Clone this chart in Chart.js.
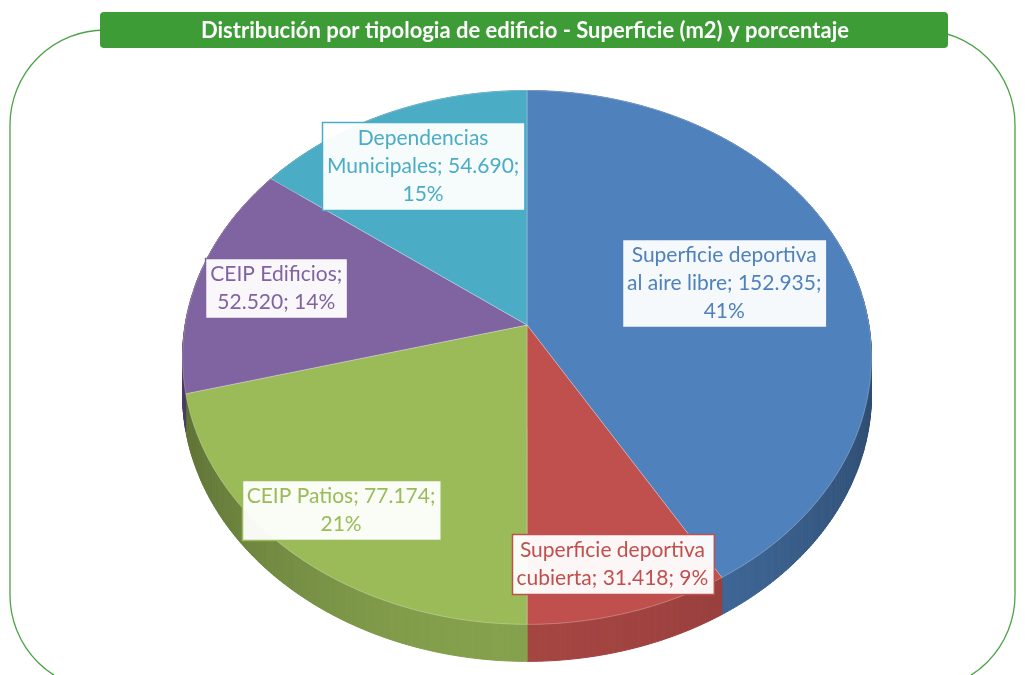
<!DOCTYPE html>
<html>
<head>
<meta charset="utf-8">
<script src="https://cdn.jsdelivr.net/npm/chart.js@4.4.0/dist/chart.umd.min.js"></script>
<style>
html, body { margin: 0; padding: 0; background: #fff; }
canvas { display: block; }
</style>
</head>
<body>
<canvas id="myChart" width="1025" height="675"></canvas>
<script>
const chartTitle = 'Distribución por tipologia de edificio - Superficie (m2) y porcentaje';
const categories = ['Superficie deportiva al aire libre', 'Superficie deportiva cubierta', 'CEIP Patios', 'CEIP Edificios', 'Dependencias Municipales'];
const surfaceValues = [152935, 31418, 77174, 52520, 54690];
const sliceColors = ['#4f81bd', '#c0504d', '#9bbb59', '#8064a2', '#4bacc6'];

// label placement: fraction of radius along the mid angle, and wrap width
const labelRadius = [0.61, 0.85, 0.82, 0.76, 0.73];
const labelWrap = [205, 210, 210, 140, 210];

const stretchX = 1.3;   // ellipse is wider than tall
const persp = 0.1215;   // near edge bigger than far edge
const depth = 37;

function fmt(n) {
    return String(n).replace(/\B(?=(\d{3})+(?!\d))/g, '.');
}

function shade(hex, f) {
    let r = parseInt(hex.slice(1, 3), 16), g = parseInt(hex.slice(3, 5), 16), b = parseInt(hex.slice(5, 7), 16);
    return 'rgb(' + Math.round(r * f) + ',' + Math.round(g * f) + ',' + Math.round(b * f) + ')';
}

function proj(el, a, k) {
    let u = Math.cos(a) * k, v = Math.sin(a) * k;
    let s = 1 / (1 - persp * v);
    return [el.x + el.outerRadius * stretchX * u * s, el.y + el.outerRadius * v * s];
}

function wrap(ctx, text, maxW) {
    let words = text.split(' ');
    let lines = [];
    let cur = '';
    for (let w of words) {
        let t = cur ? cur + ' ' + w : w;
        if (cur && ctx.measureText(t).width > maxW) {
            lines.push(cur);
            cur = w;
        } else {
            cur = t;
        }
    }
    lines.push(cur);
    return lines;
}

const pie3d = {
    id: 'pie3d',
    beforeDraw(chart) {
        let ctx = chart.ctx;
        ctx.save();
        ctx.fillStyle = '#fff';
        ctx.fillRect(0, 0, chart.width, chart.height);
        // outer frame
        ctx.strokeStyle = '#4ea347';
        ctx.lineWidth = 1.3;
        ctx.beginPath();
        ctx.roundRect(10, 30, 1005, 660, 95);
        ctx.stroke();
        // title bar
        ctx.fillStyle = '#3d9c36';
        ctx.beginPath();
        ctx.roundRect(100, 12, 848, 36, 4);
        ctx.fill();
        ctx.fillStyle = '#fff';
        ctx.font = 'bold 22px Lato';
        ctx.textAlign = 'center';
        ctx.textBaseline = 'middle';
        ctx.fillText(chartTitle, 525, 31);
        ctx.restore();
    },
    beforeDatasetsDraw(chart) {
        let ctx = chart.ctx;
        let arcs = chart.getDatasetMeta(0).data;
        let step = 0.01;
        ctx.save();
        // side wall
        arcs.forEach((el, i) => {
            for (let a = el.startAngle; a < el.endAngle; a += step) {
                let a2 = Math.min(a + step, el.endAngle);
                let p1 = proj(el, a, 1), p2 = proj(el, a2, 1);
                let u = Math.abs(Math.cos(a));
                let c = shade(sliceColors[i], 0.86 - 0.26 * u * u);
                ctx.fillStyle = c;
                ctx.strokeStyle = c;
                ctx.lineWidth = 1;
                ctx.beginPath();
                ctx.moveTo(p1[0], p1[1]);
                ctx.lineTo(p2[0], p2[1]);
                ctx.lineTo(p2[0], p2[1] + depth);
                ctx.lineTo(p1[0], p1[1] + depth);
                ctx.closePath();
                ctx.fill();
                ctx.stroke();
            }
        });
        // top faces
        arcs.forEach((el, i) => {
            ctx.beginPath();
            ctx.moveTo(el.x, el.y);
            for (let a = el.startAngle; a < el.endAngle; a += step) {
                let p = proj(el, a, 1);
                ctx.lineTo(p[0], p[1]);
            }
            let pe = proj(el, el.endAngle, 1);
            ctx.lineTo(pe[0], pe[1]);
            ctx.closePath();
            ctx.fillStyle = sliceColors[i];
            ctx.fill();
            ctx.strokeStyle = 'rgba(255,255,255,0.25)';
            ctx.lineWidth = 1;
            ctx.stroke();
        });
        // labels
        let total = surfaceValues.reduce((s, v) => s + v, 0);
        ctx.font = '21px Lato';
        ctx.textAlign = 'center';
        ctx.textBaseline = 'middle';
        let lineH = 28;
        arcs.forEach((el, i) => {
            let mid = (el.startAngle + el.endAngle) / 2;
            let p = proj(el, mid, labelRadius[i]);
            let pct = Math.round(surfaceValues[i] / total * 100);
            let text = categories[i] + '; ' + fmt(surfaceValues[i]) + '; ' + pct + '%';
            let lines = wrap(ctx, text, labelWrap[i]);
            let w = Math.max(...lines.map(l => ctx.measureText(l).width)) + 10;
            let h = lines.length * lineH + 4;
            let bx = Math.round(p[0] - w / 2) + 0.5, by = Math.round(p[1] - h / 2) + 0.5;
            ctx.fillStyle = 'rgba(255,255,255,0.95)';
            ctx.fillRect(bx, by, w, h);
            ctx.strokeStyle = sliceColors[i];
            ctx.lineWidth = 1.5;
            ctx.strokeRect(bx, by, w, h);
            ctx.fillStyle = sliceColors[i];
            lines.forEach((l, j) => {
                ctx.fillText(l, p[0], by + 2 + lineH * (j + 0.5));
            });
        });
        ctx.restore();
        return false;
    }
};

new Chart(document.getElementById('myChart'), {
    type: 'pie',
    data: {
        labels: categories,
        datasets: [{
            data: surfaceValues,
            backgroundColor: sliceColors,
            borderWidth: 0
        }]
    },
    options: {
        responsive: false,
        animation: false,
        layout: { padding: { left: 264, right: 235, top: 62, bottom: 87 } },
        plugins: {
            legend: { display: false },
            tooltip: { enabled: false }
        }
    },
    plugins: [pie3d]
});
</script>
</body>
</html>
